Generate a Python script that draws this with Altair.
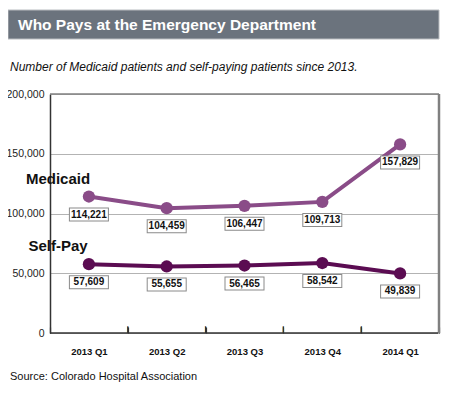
import altair as alt
import pandas as pd

quarters = ["2013 Q1", "2013 Q2", "2013 Q3", "2013 Q4", "2014 Q1"]
medicaid = [114221, 104459, 106447, 109713, 157829]
selfpay = [57609, 55655, 56465, 58542, 49839]
series_names = ["Medicaid", "Self-Pay"]
series_colors = ["#8a4c88", "#5b0c52"]
y_ticks = [0, 50000, 100000, 150000, 200000]

title_text = ["Who Pays at the Emergency Department"]
subtitle_text = ["Number of Medicaid patients and self-paying patients since 2013."]
source_text = ["Source: Colorado Hospital Association"]

FONT = "Liberation Sans, Arial, sans-serif"

rows = []
for s, vals in zip(series_names, [medicaid, selfpay]):
    for q, v in zip(quarters, vals):
        rows.append({"quarter": q, "value": v, "series": s})
df = pd.DataFrame(rows)

W, H = 389, 239
BAND = W / len(quarters)

xscale = alt.Scale(domain=quarters, paddingInner=0, paddingOuter=0)
yscale = alt.Scale(domain=[0, 200000])
color = alt.Color("series:N", scale=alt.Scale(domain=series_names, range=series_colors), legend=None)

x_axis = alt.Axis(labelAngle=0, ticks=True, tickBand="extent", tickSize=6, tickColor="#333333",
                  tickWidth=1.2, domain=False, offset=-6, zindex=0,
                  labelFont=FONT, labelFontWeight="bold", labelFontSize=9.5,
                  labelColor="#111111", labelPadding=13, labelBaseline="top")
y_axis = alt.Axis(values=y_ticks, format=",.0f", ticks=False, grid=True, zindex=0,
                  gridColor="#b3b3b3", gridWidth=1.2, domainColor="#333333", domainWidth=1.5,
                  labelFont=FONT, labelFontSize=10.5, labelColor="#222222", labelPadding=6)

X = lambda: alt.X("quarter:N", scale=xscale, sort=quarters, title=None, axis=x_axis)
Y = lambda: alt.Y("value:Q", scale=yscale, title=None, axis=y_axis)

base = alt.Chart(df).encode(x=X(), y=Y(), color=color)

lines = base.mark_line(strokeWidth=4)
points = base.mark_circle(size=150, opacity=1)

box_border = alt.Chart(df).mark_rule(
    color="#8a8a8a", strokeWidth=14, xOffset=-20, x2Offset=20, yOffset=18, strokeCap="butt"
).encode(x=X(), x2=alt.X2("quarter:N"), y=Y())
box_fill = alt.Chart(df).mark_rule(
    color="white", strokeWidth=12, xOffset=-19, x2Offset=19, yOffset=18, strokeCap="butt"
).encode(x=X(), x2=alt.X2("quarter:N"), y=Y())

box_text = alt.Chart(df).mark_text(font=FONT, fontWeight="bold", fontSize=10, dy=18,
                                   baseline="middle", align="center", color="#111111").encode(
    x=X(), y=Y(), text=alt.Text("value:Q", format=","))

# inward ticks at band boundaries (left edge of each band after the first)
tick_df = pd.DataFrame({"quarter": quarters[1:], "glyph": ["|"] * 4})
ticks = alt.Chart(tick_df).mark_rule(color="#333333", strokeWidth=1.2, xOffset=-BAND / 2).encode(
    x=X(), y=alt.value(H), y2=alt.value(H - 6))
tick_glyphs = alt.Chart(tick_df).mark_text(
    font=FONT, fontWeight="bold", fontSize=7.5, color="#333333", align="center",
    baseline="alphabetic", dx=-BAND / 2).encode(
    x=X(), y=alt.value(H - 1.6), text="glyph:N")

# series name labels
lab_df = pd.DataFrame({"quarter": [quarters[0]] * 2, "value": [medicaid[0], selfpay[0]],
                       "series": series_names})
series_labels = alt.Chart(lab_df).mark_text(font=FONT, fontWeight="bold", fontSize=15,
                                             align="center", baseline="middle", color="#111111").encode(
    x=X(), y=Y(), text="series:N",
    xOffset=alt.value(8), yOffset=alt.value(-18),
)

one = pd.DataFrame({"a": [0]})
frame_top = alt.Chart(one).mark_rule(color="#808080", strokeWidth=1.5).encode(
    x=alt.value(0), x2=alt.value(W), y=alt.value(0))
frame_right = alt.Chart(one).mark_rule(color="#808080", strokeWidth=2.5).encode(
    x=alt.value(W), y=alt.value(0), y2=alt.value(H))
frame_bottom = alt.Chart(one).mark_rule(color="#333333", strokeWidth=1.5).encode(
    x=alt.value(0), x2=alt.value(W - 1), y=alt.value(H))

title_bar = alt.Chart(one).mark_rect(color="#6b737d", stroke="#b9bcc0", strokeWidth=1).encode(
    x=alt.value(-42), x2=alt.value(389), y=alt.value(-84), y2=alt.value(-55))
title = alt.Chart(pd.DataFrame({"t": title_text})).mark_text(
    font=FONT, fontWeight="bold", fontSize=15.5, color="white", align="left", baseline="middle").encode(
    x=alt.value(-32), y=alt.value(-69), text="t:N")
subtitle = alt.Chart(pd.DataFrame({"t": subtitle_text})).mark_text(
    font=FONT, fontStyle="italic", fontSize=12, color="#111111", align="left", baseline="middle").encode(
    x=alt.value(-40), y=alt.value(-27), text="t:N")
source = alt.Chart(pd.DataFrame({"t": source_text})).mark_text(
    font=FONT, fontSize=11, color="#111111", align="left", baseline="middle").encode(
    x=alt.value(-40), y=alt.value(44 + H), text="t:N")

chart = alt.layer(
    title_bar, title, subtitle, source,
    lines, points, box_border, box_fill, box_text, series_labels, frame_top, frame_right, frame_bottom,
    ticks, tick_glyphs,
).properties(
    width=W, height=H,
    autosize=alt.AutoSizeParams(type="none"),
    padding={"left": 42, "top": 86, "right": 3, "bottom": 56},
).configure_view(stroke=None).configure(background="white")

chart.save("out.html", embed_options={"renderer": "svg", "actions": False})
